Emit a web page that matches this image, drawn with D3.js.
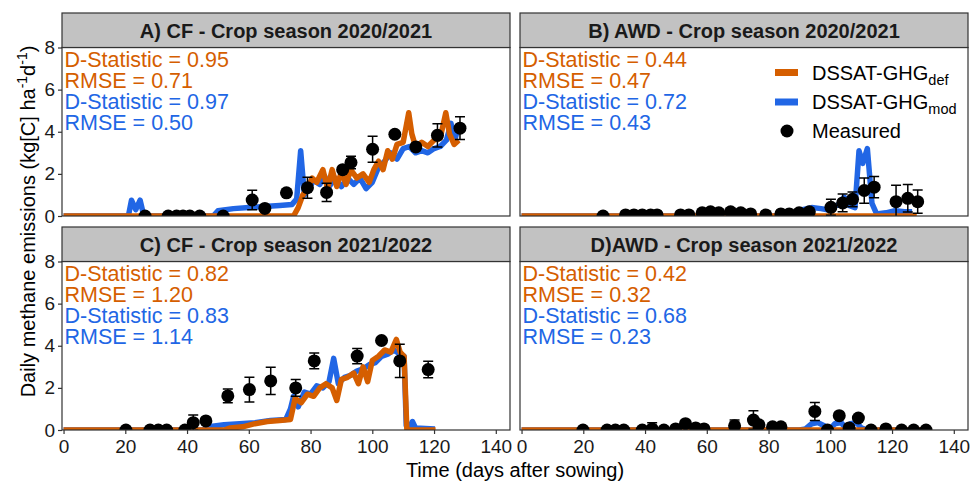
<!DOCTYPE html>
<html>
<head>
<meta charset="utf-8">
<script src="https://cdn.jsdelivr.net/npm/d3@7"></script>
<style>
  body { margin: 0; background: #fff; }
  text { font-family: "Liberation Sans", Arial, sans-serif; }
</style>
</head>
<body>
<div id="chart"></div>
<script>
// tick values
var xTicks = [0, 20, 40, 60, 80, 100, 120, 140];
var yTicks = [0, 2, 4, 6, 8];

// facet titles and statistics
var panelTitles = ["A) CF - Crop season 2020/2021", "B) AWD - Crop season 2020/2021",
    "C) CF - Crop season 2021/2022", "D)AWD - Crop season 2021/2022"];
var dStatDef = ["0.95", "0.44", "0.82", "0.42"];
var rmseDef = ["0.71", "0.47", "1.20", "0.32"];
var dStatMod = ["0.97", "0.72", "0.83", "0.68"];
var rmseMod = ["0.50", "0.43", "1.14", "0.23"];

// A) CF 2020/2021  [day, value]
var defA = [[0, 0], [74.5, 0], [76, 0.4], [77.5, 1.0], [79, 1.3], [80.5, 1.8], [82, 1.6], [84, 2.2], [85.5, 1.3], [87, 2.2], [88.5, 1.4],
    [90, 2.1], [91.5, 1.5], [93, 2.2], [95, 1.8], [97, 2.0], [99, 1.6], [100.5, 2.2], [102, 2.6], [103.5, 2.2], [105, 3.1], [106.5, 2.7],
    [108, 3.4], [110, 3.5], [111.8, 4.9], [112.8, 3.9], [114, 3.3], [116, 3.5], [118, 3.3], [120, 3.6], [122, 3.7], [123.8, 4.9],
    [125, 3.9], [126.5, 3.4], [128, 3.6]];
var modA = [[0, 0], [21, 0], [22, 0.75], [23.4, 0.3], [24.8, 0.75], [26, 0], [48.5, 0], [50, 0.25], [55, 0.35], [60, 0.4], [65, 0.45],
    [70, 0.5], [74, 0.55], [75.5, 0.8], [76.8, 3.1], [78, 1.0], [79.5, 1.3], [81, 1.7], [83, 1.5], [84.5, 1.9], [86, 1.4], [88, 1.8],
    [90, 1.4], [92, 1.8], [94, 1.5], [96, 1.8], [98, 1.3], [100, 1.6], [102, 2.3], [104, 2.6], [106, 3.0], [108, 2.7], [110, 3.2],
    [112, 3.3], [114, 3.0], [116, 3.1], [118, 3.0], [120, 3.2], [122, 3.3], [124, 3.6], [125.5, 4.4], [126.5, 3.5], [128, 4.3]];
// [day, value, error]
var measA = [[26.4, 0, 0], [33.9, 0, 0], [36.6, 0, 0], [38.7, 0, 0], [40.9, 0, 0], [44.1, 0, 0], [51.7, 0, 0], [61.1, 0.76, 0.46],
    [65.2, 0.36, 0], [72.2, 1.1, 0], [79.0, 1.34, 0.5], [85.2, 1.12, 0.43], [90.4, 2.2, 0], [93.1, 2.54, 0.3], [100.1, 3.17, 0.62],
    [107.3, 3.88, 0], [114.1, 3.28, 0], [121.1, 3.83, 0.55], [128.4, 4.17, 0.54]];

// B) AWD 2020/2021
var defB = [[0, 0], [128, 0]];
var modB = [[0, 0], [85, 0], [88, 0.1], [91, 0.3], [94, 0.4], [97, 0.35], [99, 0.3], [101, 0.45], [103, 0.55], [104.5, 0.9], [106, 0.5],
    [108, 0.4], [109.3, 3.1], [110.5, 2.5], [112, 3.2], [113.5, 0.6], [115, 0.1], [118, 0.15], [121, 0.25], [124, 0.2], [126.5, 0.2]];
var measB = [[26.4, 0, 0], [33.7, 0.05, 0], [36.4, 0.05, 0], [39.1, 0.05, 0], [41.8, 0.05, 0], [43.9, 0.05, 0], [51.5, 0.05, 0],
    [54.2, 0.05, 0], [58.5, 0.15, 0], [61.2, 0.2, 0], [63.9, 0.15, 0], [67.7, 0.2, 0], [71.0, 0.15, 0], [74.2, 0.1, 0], [79.1, 0.05, 0],
    [84.0, 0.1, 0], [86.7, 0.1, 0], [89.9, 0.15, 0], [93.2, 0.2, 0], [100.2, 0.41, 0.38], [104.0, 0.62, 0.42], [107.2, 0.79, 0.35],
    [111.0, 1.21, 0.6], [114.2, 1.37, 0.5], [121.3, 0.68, 0.78], [125.1, 0.84, 0.65], [128.3, 0.68, 0.55]];

// C) CF 2021/2022
var defC = [[0, 0], [52, 0], [54, 0.1], [58, 0.15], [62, 0.3], [66, 0.4], [70, 0.45], [73.5, 0.5], [75, 1.5], [77, 1.3], [79, 1.7],
    [81, 1.6], [83, 2.0], [85, 2.2], [87, 2.0], [88.5, 1.4], [90, 2.4], [92, 2.5], [94, 2.7], [95.5, 2.2], [97, 3.0], [98.5, 2.3],
    [100, 3.3], [102, 3.5], [104, 3.8], [106, 3.7], [107.8, 4.3], [109, 3.7], [110.3, 3.5], [111.2, 0], [120.5, 0]];
var modC = [[0, 0], [45, 0], [47, 0.15], [52, 0.25], [57, 0.3], [62, 0.35], [67, 0.45], [72, 0.5], [73.5, 1.0], [74.5, 1.6], [76, 1.1],
    [78, 1.8], [80, 1.7], [82, 2.1], [84, 2.0], [86, 2.3], [87.5, 3.4], [89, 2.2], [91, 2.5], [93, 2.6], [95, 2.8], [97, 2.9],
    [99, 3.1], [101, 3.2], [103, 3.5], [105, 3.6], [107, 3.8], [109, 3.6], [110.3, 3.5], [111, 0.2], [112, 0.1], [113, 0.4],
    [114, 0.1], [120.3, 0.05]];
var measC = [[20.2, 0, 0], [28.0, 0, 0], [30.7, 0, 0], [33.4, 0, 0], [39.3, 0, 0], [42.0, 0.35, 0.36], [46.1, 0.43, 0],
    [53.2, 1.62, 0.33], [60.2, 1.92, 0.59], [67.1, 2.33, 0.65], [75.2, 2.0, 0.4], [81.2, 3.28, 0.37], [95.1, 3.51, 0.36],
    [103.0, 4.25, 0], [108.9, 3.28, 0.79], [118.1, 2.87, 0.39]];

// D) AWD 2021/2022
var defD = [[0, 0], [131.5, 0]];
var modD = [[0, 0], [90, 0], [92, 0.05], [94, 0.3], [96, 0.35], [98, 0.2], [100, 0.05], [101.5, 0.3], [103.5, 0.35], [105, 0.1],
    [106.5, 0.3], [108.5, 0.35], [110, 0.1], [112, 0], [131.5, 0]];
var measD = [[19.9, 0, 0], [27.7, 0, 0], [30.4, 0, 0], [33.1, 0, 0], [39.1, 0, 0], [42.3, 0.05, 0.3], [46.1, 0, 0], [49.9, 0.05, 0],
    [53.1, 0.3, 0], [56.4, 0.1, 0], [59.1, 0.05, 0], [69.0, 0.2, 0.27], [75.1, 0.47, 0.44], [76.9, 0.25, 0], [81.3, 0.15, 0],
    [84.0, 0.15, 0], [95.0, 0.88, 0.43], [99.1, 0, 0], [102.9, 0.68, 0], [106.1, 0.1, 0], [109.1, 0.57, 0], [113.2, 0, 0],
    [118.0, 0.05, 0], [123.1, 0, 0], [127.0, 0, 0], [131.0, 0, 0]];

var colorDef = "#D55E00";
var colorMod = "#2166E5";

// layout of the 2x2 facets
var width = 971, height = 482;
var panelW = 448, stripH = 34.5;
var colLeft = [62, 520];
var stripTop = [13, 227];
var plotBottom = [216, 430];

var svg = d3.select("#chart")
    .append("svg")
    .attr("width", width)
    .attr("height", height);

var panels = [
    { def: defA, mod: modA, meas: measA, col: 0, row: 0 },
    { def: defB, mod: modB, meas: measB, col: 1, row: 0 },
    { def: defC, mod: modC, meas: measC, col: 0, row: 1 },
    { def: defD, mod: modD, meas: measD, col: 1, row: 1 }
];

panels.forEach(function (p, i) {
    var x0 = colLeft[p.col];
    var top = stripTop[p.row] + stripH;
    var bottom = plotBottom[p.row];

    var x = d3.scaleLinear().domain([-0.5, 144.6]).range([x0, x0 + panelW]);
    var y = d3.scaleLinear().domain([0, 8]).range([bottom, top]);

    var line = d3.line()
        .x(function (d) { return x(d[0]); })
        .y(function (d) { return y(d[1]); });

    svg.append("clipPath")
        .attr("id", "clip" + i)
        .append("rect")
        .attr("x", x0).attr("y", top)
        .attr("width", panelW).attr("height", bottom - top);

    var g = svg.append("g").attr("clip-path", "url(#clip" + i + ")");

    // model lines
    g.append("path")
        .datum(p.mod)
        .attr("fill", "none")
        .attr("stroke", colorMod)
        .attr("stroke-width", 5.5)
        .attr("stroke-linejoin", "round")
        .attr("d", line);

    g.append("path")
        .datum(p.def)
        .attr("fill", "none")
        .attr("stroke", colorDef)
        .attr("stroke-width", 5.5)
        .attr("stroke-linejoin", "round")
        .attr("d", line);

    // error bars
    var bars = p.meas.filter(function (d) { return d[2] > 0; });
    var eb = g.selectAll(".eb").data(bars).enter().append("g")
        .attr("stroke", "black").attr("stroke-width", 1.5);
    eb.append("line")
        .attr("x1", function (d) { return x(d[0]); })
        .attr("x2", function (d) { return x(d[0]); })
        .attr("y1", function (d) { return y(d[1] - d[2]); })
        .attr("y2", function (d) { return y(d[1] + d[2]); });
    eb.append("line")
        .attr("x1", function (d) { return x(d[0]) - 5; })
        .attr("x2", function (d) { return x(d[0]) + 5; })
        .attr("y1", function (d) { return y(d[1] + d[2]); })
        .attr("y2", function (d) { return y(d[1] + d[2]); });
    eb.append("line")
        .attr("x1", function (d) { return x(d[0]) - 5; })
        .attr("x2", function (d) { return x(d[0]) + 5; })
        .attr("y1", function (d) { return y(d[1] - d[2]); })
        .attr("y2", function (d) { return y(d[1] - d[2]); });

    // measured points
    g.selectAll(".pt").data(p.meas).enter().append("circle")
        .attr("cx", function (d) { return x(d[0]); })
        .attr("cy", function (d) { return y(d[1]); })
        .attr("r", 6.5)
        .attr("fill", "black");

    // panel border
    svg.append("rect")
        .attr("x", x0).attr("y", top)
        .attr("width", panelW).attr("height", bottom - top)
        .attr("fill", "none").attr("stroke", "#333").attr("stroke-width", 1.2);

    // strip
    svg.append("rect")
        .attr("x", x0).attr("y", stripTop[p.row])
        .attr("width", panelW).attr("height", stripH)
        .attr("fill", "#C2C2C2").attr("stroke", "#333").attr("stroke-width", 1.2);
    svg.append("text")
        .attr("x", x0 + panelW / 2)
        .attr("y", stripTop[p.row] + stripH / 2)
        .attr("dy", "0.37em")
        .attr("text-anchor", "middle")
        .style("font-size", "20px")
        .style("font-weight", "bold")
        .attr("fill", "#1a1a1a")
        .text(panelTitles[i]);

    // statistics text
    var stats = [["D-Statistic = " + dStatDef[i], colorDef, 7.5], ["RMSE = " + rmseDef[i], colorDef, 6.5],
        ["D-Statistic = " + dStatMod[i], colorMod, 5.5], ["RMSE = " + rmseMod[i], colorMod, 4.5]];
    stats.forEach(function (s) {
        svg.append("text")
            .attr("x", x(0) + 1)
            .attr("y", y(s[2]))
            .attr("dy", "0.42em")
            .style("font-size", "21.5px")
            .attr("fill", s[1])
            .text(s[0]);
    });

    // axes only on the outer panels
    if (p.col == 0) {
        var ay = svg.append("g")
            .attr("transform", "translate(" + x0 + ",0)")
            .call(d3.axisLeft(y).tickValues(yTicks).tickSize(4).tickPadding(3));
        styleAxis(ay);
    }
    if (p.row == 1) {
        var ax = svg.append("g")
            .attr("transform", "translate(0," + bottom + ")")
            .call(d3.axisBottom(x).tickValues(xTicks).tickSize(4).tickPadding(6));
        styleAxis(ax);
    }

    // legend inside panel B
    if (i == 1) {
        var lg = svg.append("g");
        var keys = [[colorDef, "def", 72.5], [colorMod, "mod", 102]];
        keys.forEach(function (k) {
            lg.append("line")
                .attr("x1", 775).attr("x2", 798)
                .attr("y1", k[2]).attr("y2", k[2])
                .attr("stroke", k[0]).attr("stroke-width", 7);
            var t = lg.append("text")
                .attr("x", 812).attr("y", k[2])
                .attr("dy", "0.35em")
                .style("font-size", "20px")
                .attr("fill", "black");
            t.append("tspan").text("DSSAT-GHG");
            t.append("tspan").attr("dy", 5).style("font-size", "14.5px").text(k[1]);
        });
        lg.append("circle").attr("cx", 787).attr("cy", 131).attr("r", 6.5).attr("fill", "black");
        lg.append("text")
            .attr("x", 812).attr("y", 131)
            .attr("dy", "0.35em")
            .style("font-size", "20px")
            .attr("fill", "black")
            .text("Measured");
    }
});

function styleAxis(a) {
    a.select(".domain").remove();
    a.selectAll(".tick line").attr("stroke", "#333").attr("stroke-width", 1.2);
    a.selectAll(".tick text")
        .attr("fill", "#1a1a1a")
        .style("font-size", "19px")
        .style("font-family", "'Liberation Sans', Arial, sans-serif");
}

// axis titles
svg.append("text")
    .attr("x", 515)
    .attr("y", 470)
    .attr("dy", "0.35em")
    .attr("text-anchor", "middle")
    .style("font-size", "20px")
    .text("Time (days after sowing)");

var yTitle = svg.append("text")
    .attr("transform", "translate(28,221.5) rotate(-90)")
    .attr("text-anchor", "middle")
    .attr("dy", "0.35em")
    .style("font-size", "20px");
yTitle.append("tspan").text("Daily methane emissions (kg[C] ha");
yTitle.append("tspan").attr("dy", -8).style("font-size", "14px").text("-1");
yTitle.append("tspan").attr("dy", 8).text("d");
yTitle.append("tspan").attr("dy", -8).style("font-size", "14px").text("-1");
yTitle.append("tspan").attr("dy", 8).text(")");
</script>
</body>
</html>
